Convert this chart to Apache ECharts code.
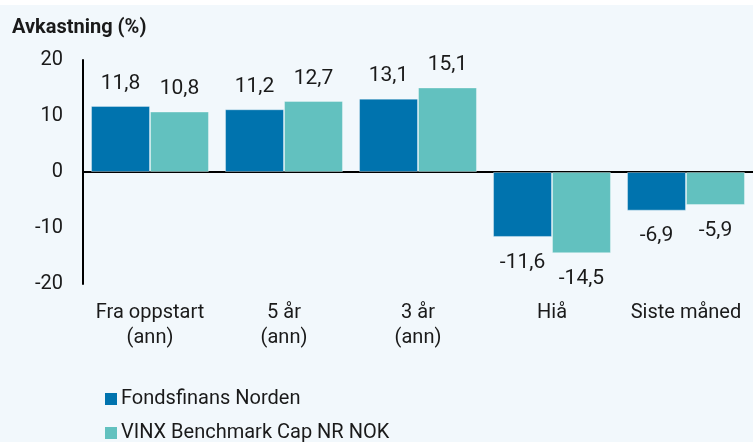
<!DOCTYPE html>
<html>
<head>
<meta charset="utf-8">
<script src="https://cdn.jsdelivr.net/npm/echarts@6/dist/echarts.min.js"></script>
<style>
  html, body { margin: 0; padding: 0; background: #ffffff; }
  #main { width: 753px; height: 442px; }
</style>
</head>
<body>
<div id="main"></div>
<script>
  var categories = ['Fra oppstart\n(ann)', '5 år\n(ann)', '3 år\n(ann)', 'Hiå', 'Siste måned'];
  var fundName = 'Fondsfinans Norden';
  var benchName = 'VINX Benchmark Cap NR NOK';
  var fundValues = [11.8, 11.2, 13.1, -11.6, -6.9];
  var benchValues = [10.8, 12.7, 15.1, -14.5, -5.9];
  var yTicks = { min: -20, max: 20, interval: 10 };

  var font = 'Roboto';
  var textColor = '#1a1a1a';

  function withLabels(values) {
    return values.map(function (v) {
      return {
        value: v,
        label: { position: v < 0 ? 'bottom' : 'top', distance: v < 0 ? 15 : 12 }
      };
    });
  }

  var myChart = echarts.init(document.getElementById('main'));
  var labelStyle = {
    show: true,
    color: textColor,
    fontFamily: font,
    fontSize: 21,
    formatter: function (p) {
      return p.value.toFixed(1).replace('.', ',');
    }
  };

  var option = {
    backgroundColor: '#f2f8fc',
    animation: false,
    graphic: [{
      type: 'rect',
      left: 0,
      top: 0,
      shape: { width: 753, height: 5 },
      style: { fill: '#ffffff' },
      silent: true
    }],
    title: {
      text: 'Avkastning (%)',
      left: 7,
      top: 13,
      textStyle: {
        color: textColor,
        fontFamily: font,
        fontSize: 20,
        fontWeight: 'bold'
      }
    },
    legend: {
      orient: 'vertical',
      left: 100,
      top: 383,
      height: 80,
      itemWidth: 12,
      itemHeight: 12,
      itemGap: 12,
      icon: 'rect',
      itemStyle: { borderWidth: 0 },
      textStyle: {
        color: textColor,
        fontFamily: font,
        fontSize: 20,
        lineHeight: 22,
        padding: [0, 0, 0, -1]
      },
      data: [fundName, benchName]
    },
    grid: {
      left: 83,
      top: 60,
      width: 678,
      bottom: 158,
      containLabel: false
    },
    xAxis: [{
      type: 'category',
      data: categories,
      position: 'bottom',
      axisLine: { show: false, onZero: false },
      axisTick: { show: false },
      axisLabel: {
        interval: 0,
        color: textColor,
        fontFamily: font,
        fontSize: 20,
        lineHeight: 25,
        margin: 16
      }
    }, {
      type: 'category',
      data: categories,
      position: 'top',
      axisLine: { show: true, onZero: true, lineStyle: { color: '#000', width: 2 } },
      axisTick: { show: false },
      axisLabel: { show: false }
    }],
    yAxis: {
      type: 'value',
      min: yTicks.min,
      max: yTicks.max,
      interval: yTicks.interval,
      axisLine: { show: true, lineStyle: { color: '#000', width: 2 } },
      axisTick: { show: false },
      splitLine: { show: false },
      axisLabel: {
        color: textColor,
        fontFamily: font,
        fontSize: 20,
        margin: 20
      }
    },
    series: [{
      name: fundName,
      type: 'bar',
      barGap: 0,
      barCategoryGap: '12%',
      itemStyle: { color: '#0073ae', borderColor: 'rgba(255,255,255,0.35)', borderWidth: 1 },
      label: labelStyle,
      data: withLabels(fundValues)
    }, {
      name: benchName,
      type: 'bar',
      barGap: 0,
      barCategoryGap: '12%',
      itemStyle: { color: '#62c1bf', borderColor: 'rgba(255,255,255,0.35)', borderWidth: 1 },
      label: labelStyle,
      data: withLabels(benchValues)
    }]
  };
  myChart.setOption(option);
</script>
</body>
</html>
